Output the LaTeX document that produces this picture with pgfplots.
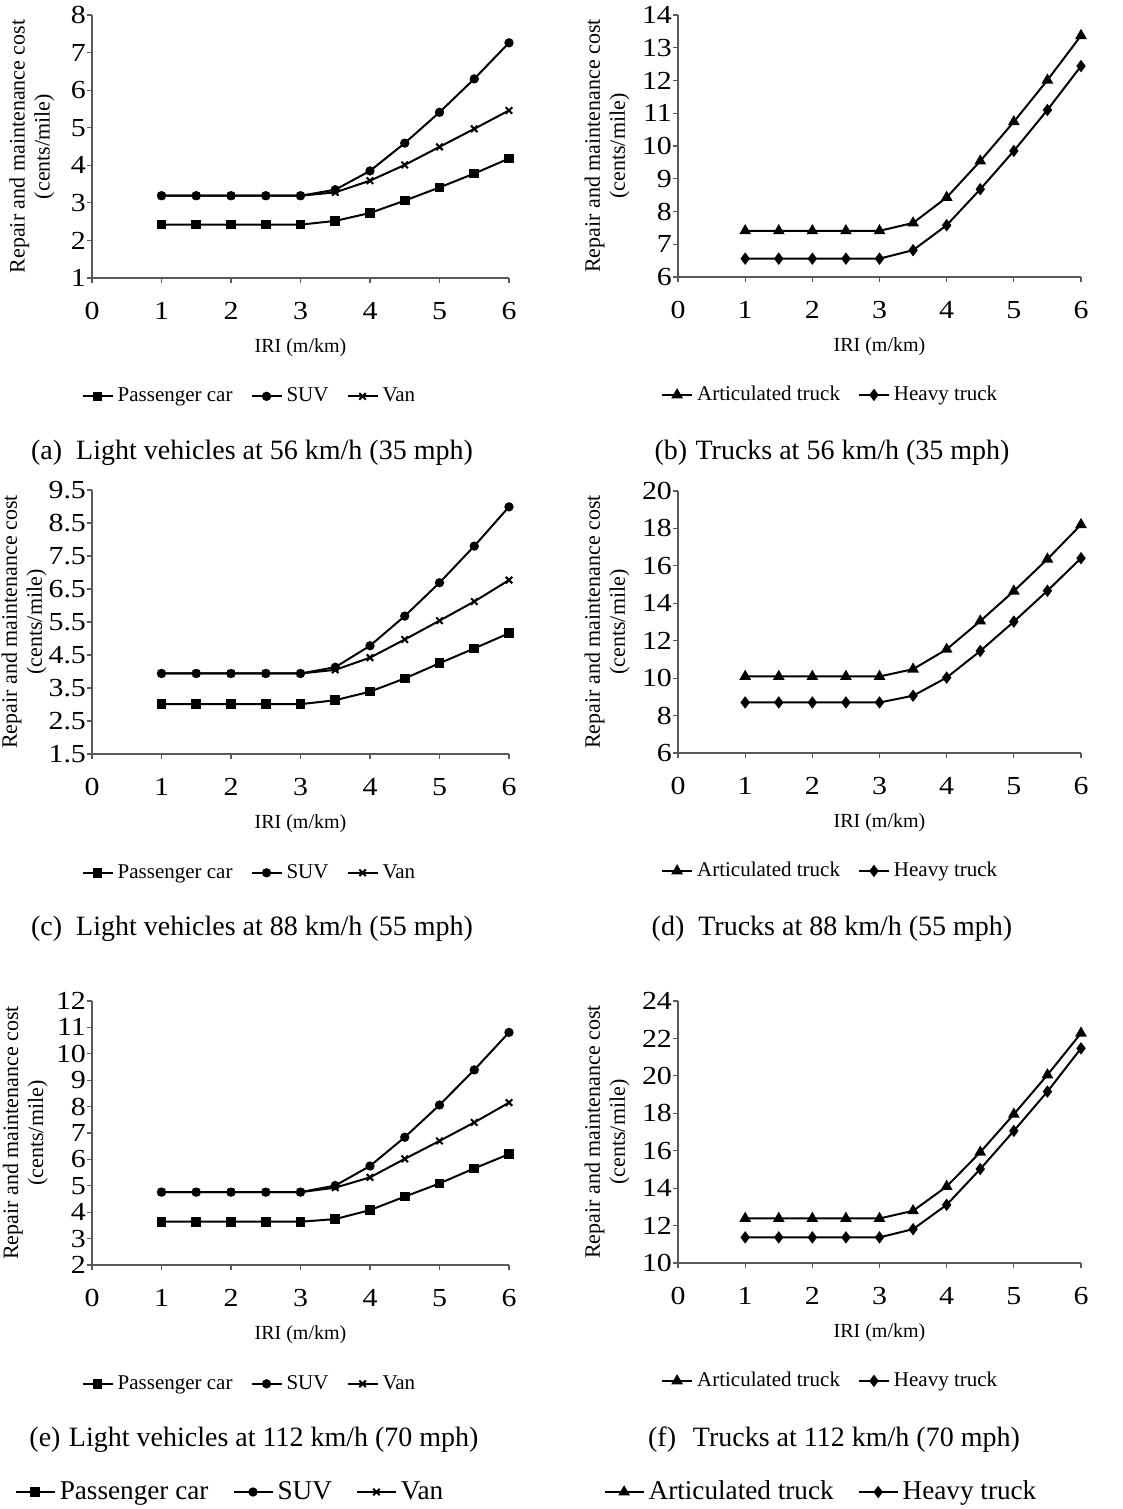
\documentclass[border=0pt]{standalone}
\usepackage{fontspec}
\setmainfont{Liberation Serif}
\newfontfamily\tickfont[FakeStretch=1.15]{Liberation Serif}
\usepackage{pgfplots}
\pgfplotsset{compat=1.18}

\pgfplotsset{
  panel/.style={
    scale only axis, xmin=0, xmax=6, xtick={0,...,6},
    axis x line*=bottom, axis y line*=left,
    axis line style={gray!70!black, line width=0.6pt},
    tick style={gray!70!black, line width=0.6pt},
    tick align=outside, major tick length=2.5pt,
    ticklabel style={font=\tickfont\fontsize{13}{15}\selectfont},
    /pgf/number format/assume math mode=true,
    xticklabel style={yshift=-6pt},
    yticklabel style={xshift=3pt},
    xlabel={IRI (m/km)},
    xlabel style={at={(axis description cs:0.5,-0.265)}, anchor=center, font=\fontsize{10}{12}\selectfont},
    ylabel={Repair and maintenance cost\\(cents/mile)},
    ylabel style={anchor=center, align=center, font=\fontsize{11}{12.5}\selectfont},
    legend style={draw=none, fill=none, at={(0.38,-0.45)}, anchor=center,
      legend columns=-1, font=\fontsize{10.5}{12}\selectfont,
      /tikz/every even column/.append style={column sep=7pt}},
    legend image code/.code={\draw[mark repeat=2,mark phase=2] plot coordinates {(0pt,0pt)(7.5pt,0pt)(15pt,0pt)};},
    every axis plot/.append style={black, line width=1pt, mark options={solid}},
    clip=false,
  },
  light/.style={ylabel style={at={(axis description cs:#1,0.5)}}},
  truck/.style={ylabel style={at={(axis description cs:#1,0.5)}}},
  pc/.style={mark=square*, mark size=1.9pt},
  suv/.style={mark=*, mark size=1.8pt},
  van/.style={mark=x, mark size=2.3pt},
  art/.style={mark=triangle*, mark size=2.4pt},
  hvy/.style={mark=diamond*, mark size=2.3pt},
}

\begin{document}
\begin{tikzpicture}
\useasboundingbox (0pt,0pt) rectangle (561.5pt,-754.5pt);

% (a)
\begin{axis}[panel, light=-0.144, at={(46pt,-139pt)}, anchor=south west,
  width=208.5pt, height=131.5pt, ymin=1, ymax=8, ytick={1,2,3,4,5,6,7,8}]
\addplot[pc] coordinates {(1,2.42)(1.5,2.42)(2,2.42)(2.5,2.42)(3,2.42)(3.5,2.52)(4,2.73)(4.5,3.06)(5,3.41)(5.5,3.78)(6,4.18)};
\addplot[suv] coordinates {(1,3.19)(1.5,3.19)(2,3.19)(2.5,3.19)(3,3.19)(3.5,3.35)(4,3.85)(4.5,4.59)(5,5.41)(5.5,6.30)(6,7.26)};
\addplot[van] coordinates {(1,3.19)(1.5,3.19)(2,3.19)(2.5,3.19)(3,3.19)(3.5,3.28)(4,3.59)(4.5,4.01)(5,4.49)(5.5,4.97)(6,5.46)};
\legend{Passenger car, SUV, Van}
\end{axis}

% (b)
\begin{axis}[panel, truck=-0.176, at={(339pt,-138.5pt)}, anchor=south west,
  width=201.5pt, height=131pt, ymin=6, ymax=14, ytick={6,7,8,9,10,11,12,13,14}]
\addplot[art] coordinates {(1,7.41)(1.5,7.41)(2,7.41)(2.5,7.41)(3,7.41)(3.5,7.65)(4,8.43)(4.5,9.54)(5,10.74)(5.5,12.01)(6,13.37)};
\addplot[hvy] coordinates {(1,6.56)(1.5,6.56)(2,6.56)(2.5,6.56)(3,6.56)(3.5,6.82)(4,7.58)(4.5,8.68)(5,9.85)(5.5,11.10)(6,12.44)};
\legend{Articulated truck, Heavy truck}
\end{axis}

% (c)
\begin{axis}[panel, light=-0.163, at={(46pt,-377pt)}, anchor=south west,
  width=208.5pt, height=132pt, ymin=1.5, ymax=9.5, ytick={1.5,2.5,3.5,4.5,5.5,6.5,7.5,8.5,9.5}]
\addplot[pc] coordinates {(1,3.01)(1.5,3.01)(2,3.01)(2.5,3.01)(3,3.01)(3.5,3.13)(4,3.39)(4.5,3.79)(5,4.25)(5.5,4.70)(6,5.16)};
\addplot[suv] coordinates {(1,3.94)(1.5,3.94)(2,3.94)(2.5,3.94)(3,3.94)(3.5,4.13)(4,4.78)(4.5,5.68)(5,6.69)(5.5,7.80)(6,8.99)};
\addplot[van] coordinates {(1,3.94)(1.5,3.94)(2,3.94)(2.5,3.94)(3,3.94)(3.5,4.05)(4,4.42)(4.5,4.97)(5,5.54)(5.5,6.12)(6,6.77)};
\legend{Passenger car, SUV, Van}
\end{axis}

% (d)
\begin{axis}[panel, truck=-0.176, at={(339pt,-376.5pt)}, anchor=south west,
  width=201.5pt, height=131pt, ymin=6, ymax=20, ytick={6,8,10,12,14,16,18,20}]
\addplot[art] coordinates {(1,10.09)(1.5,10.09)(2,10.09)(2.5,10.09)(3,10.09)(3.5,10.48)(4,11.54)(4.5,13.05)(5,14.65)(5.5,16.36)(6,18.20)};
\addplot[hvy] coordinates {(1,8.70)(1.5,8.70)(2,8.70)(2.5,8.70)(3,8.70)(3.5,9.06)(4,10.03)(4.5,11.45)(5,13.02)(5.5,14.67)(6,16.41)};
\legend{Articulated truck, Heavy truck}
\end{axis}

% (e)
\begin{axis}[panel, light=-0.16, at={(46pt,-632.5pt)}, anchor=south west,
  width=208.5pt, height=132pt, ymin=2, ymax=12, ytick={2,3,4,5,6,7,8,9,10,11,12}]
\addplot[pc] coordinates {(1,3.64)(1.5,3.64)(2,3.64)(2.5,3.64)(3,3.64)(3.5,3.74)(4,4.08)(4.5,4.59)(5,5.09)(5.5,5.66)(6,6.20)};
\addplot[suv] coordinates {(1,4.76)(1.5,4.76)(2,4.76)(2.5,4.76)(3,4.76)(3.5,5.01)(4,5.75)(4.5,6.84)(5,8.06)(5.5,9.39)(6,10.81)};
\addplot[van] coordinates {(1,4.76)(1.5,4.76)(2,4.76)(2.5,4.76)(3,4.76)(3.5,4.93)(4,5.32)(4.5,6.02)(5,6.70)(5.5,7.40)(6,8.15)};
\legend{Passenger car, SUV, Van}
\end{axis}

% (f)
\begin{axis}[panel, truck=-0.176, at={(339pt,-631.5pt)}, anchor=south west,
  width=201.5pt, height=131pt, ymin=10, ymax=24, ytick={10,12,14,16,18,20,22,24}]
\addplot[art] coordinates {(1,12.38)(1.5,12.38)(2,12.38)(2.5,12.38)(3,12.38)(3.5,12.79)(4,14.09)(4.5,15.92)(5,17.95)(5.5,20.05)(6,22.28)};
\addplot[hvy] coordinates {(1,11.37)(1.5,11.37)(2,11.37)(2.5,11.37)(3,11.37)(3.5,11.81)(4,13.11)(4.5,15.02)(5,17.06)(5.5,19.16)(6,21.47)};
\legend{Articulated truck, Heavy truck}
\end{axis}

% captions
\begin{scope}[every node/.style={font=\fontsize{14}{16}\selectfont}]
\node at (126pt,-226.5pt) {(a)\hspace{0.5em}Light vehicles at 56 km/h (35 mph)};
\node at (416pt,-226.5pt) {(b)\hspace{0.3em}Trucks at 56 km/h (35 mph)};
\node at (126pt,-464.5pt) {(c)\hspace{0.5em}Light vehicles at 88 km/h (55 mph)};
\node at (416pt,-464.5pt) {(d)\hspace{0.5em}Trucks at 88 km/h (55 mph)};
\node at (127pt,-720pt) {(e)\hspace{0.3em}Light vehicles at 112 km/h (70 mph)};
\node at (417pt,-720pt) {(f)\hspace{0.6em}Trucks at 112 km/h (70 mph)};
\end{scope}

% stray legends at the bottom
\begin{axis}[hide axis, scale only axis, width=10pt, height=10pt,
  at={(115.5pt,-746pt)}, anchor=center, xmin=0, xmax=1, ymin=0, ymax=1,
  legend style={draw=none, fill=none, at={(0.5,0.5)}, anchor=center,
    legend columns=-1, font=\fontsize{13.6}{15}\selectfont,
    /tikz/every even column/.append style={column sep=10pt}},
  legend image code/.code={\draw[mark repeat=2,mark phase=2] plot coordinates {(0pt,0pt)(9.75pt,0pt)(19.5pt,0pt)};},
  every axis plot/.append style={black, line width=1pt}]
\addlegendimage{pc}\addlegendentry{Passenger car}
\addlegendimage{suv}\addlegendentry{SUV}
\addlegendimage{van}\addlegendentry{Van}
\end{axis}
\begin{axis}[hide axis, scale only axis, width=10pt, height=10pt,
  at={(411pt,-746pt)}, anchor=center, xmin=0, xmax=1, ymin=0, ymax=1,
  legend style={draw=none, fill=none, at={(0.5,0.5)}, anchor=center,
    legend columns=-1, font=\fontsize{13.6}{15}\selectfont,
    /tikz/every even column/.append style={column sep=10pt}},
  legend image code/.code={\draw[mark repeat=2,mark phase=2] plot coordinates {(0pt,0pt)(9.75pt,0pt)(19.5pt,0pt)};},
  every axis plot/.append style={black, line width=1pt}]
\addlegendimage{art}\addlegendentry{Articulated truck}
\addlegendimage{hvy}\addlegendentry{Heavy truck}
\end{axis}
\end{tikzpicture}
\end{document}
